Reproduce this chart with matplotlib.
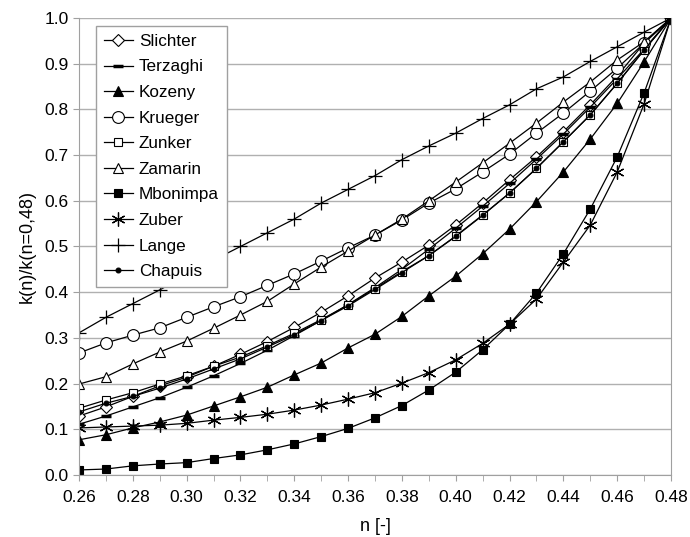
import matplotlib.pyplot as plt
import numpy as np

plt.rcParams['font.family'] = ['Liberation Sans', 'DejaVu Sans']

# porosity values (x axis)
n = [0.26, 0.27, 0.28, 0.29, 0.30, 0.31, 0.32, 0.33, 0.34, 0.35, 0.36, 0.37,
     0.38, 0.39, 0.40, 0.41, 0.42, 0.43, 0.44, 0.45, 0.46, 0.47, 0.48]

# k(n)/k(n=0,48)
slichter = [0.129, 0.149, 0.172, 0.195, 0.214, 0.238, 0.264, 0.292, 0.323, 0.356, 0.392, 0.431,
            0.466, 0.503, 0.547, 0.595, 0.646, 0.696, 0.751, 0.810, 0.873, 0.945, 1.0]
terzaghi = [0.111, 0.129, 0.149, 0.169, 0.192, 0.217, 0.244, 0.273, 0.305, 0.338, 0.373, 0.410,
            0.450, 0.494, 0.540, 0.588, 0.638, 0.691, 0.746, 0.805, 0.867, 0.932, 1.0]
kozeny = [0.077, 0.088, 0.103, 0.116, 0.131, 0.151, 0.171, 0.192, 0.219, 0.245, 0.278, 0.308,
          0.347, 0.392, 0.435, 0.484, 0.538, 0.598, 0.663, 0.735, 0.813, 0.904, 1.0]
krueger = [0.267, 0.289, 0.306, 0.322, 0.345, 0.368, 0.390, 0.415, 0.440, 0.468, 0.497, 0.525,
           0.558, 0.595, 0.626, 0.663, 0.702, 0.748, 0.792, 0.840, 0.890, 0.945, 1.0]
zunker = [0.146, 0.164, 0.180, 0.199, 0.217, 0.238, 0.258, 0.283, 0.310, 0.340, 0.372, 0.408,
          0.445, 0.480, 0.523, 0.569, 0.617, 0.671, 0.729, 0.788, 0.857, 0.930, 1.0]
zamarin = [0.199, 0.215, 0.243, 0.269, 0.293, 0.321, 0.350, 0.380, 0.418, 0.455, 0.490, 0.525,
           0.560, 0.600, 0.641, 0.683, 0.726, 0.770, 0.816, 0.860, 0.908, 0.948, 1.0]
mbonimpa = [0.011, 0.013, 0.020, 0.024, 0.027, 0.036, 0.044, 0.055, 0.068, 0.084, 0.102, 0.125,
            0.152, 0.186, 0.225, 0.274, 0.330, 0.398, 0.484, 0.582, 0.696, 0.836, 1.0]
zuber = [0.103, 0.105, 0.107, 0.109, 0.113, 0.120, 0.126, 0.133, 0.142, 0.153, 0.166, 0.180,
         0.201, 0.224, 0.252, 0.288, 0.330, 0.385, 0.466, 0.547, 0.663, 0.812, 1.0]
lange = [0.311, 0.345, 0.375, 0.405, 0.437, 0.470, 0.500, 0.530, 0.560, 0.595, 0.625, 0.655,
         0.690, 0.720, 0.748, 0.780, 0.810, 0.845, 0.871, 0.905, 0.937, 0.969, 1.0]
chapuis = [0.138, 0.157, 0.172, 0.190, 0.210, 0.232, 0.254, 0.280, 0.307, 0.338, 0.370, 0.406,
           0.443, 0.480, 0.522, 0.568, 0.617, 0.671, 0.729, 0.788, 0.857, 0.930, 1.0]

# name, values, marker, filled, size, edge width
series = [
    ("Slichter", slichter, "D", False, 6, 0.8),
    ("Terzaghi", terzaghi, "_", True, 7, 2.5),
    ("Kozeny", kozeny, "^", True, 7, 0.8),
    ("Krueger", krueger, "o", False, 8.5, 0.8),
    ("Zunker", zunker, "s", False, 6, 0.8),
    ("Zamarin", zamarin, "^", False, 7.5, 0.8),
    ("Mbonimpa", mbonimpa, "s", True, 6, 0.8),
    ("Zuber", zuber, (6, 2, 0), True, 10, 0.9),
    ("Lange", lange, "+", True, 10, 0.9),
    ("Chapuis", chapuis, "o", True, 3.5, 0.8),
]

fig = plt.figure(figsize=(6.9, 5.37), dpi=100)
ax = fig.add_axes([0.1145, 0.1155, 0.858, 0.851])

for name, vals, mk, filled, ms, mew in series:
    ax.plot(n, vals, color="black", linewidth=0.9, marker=mk, markersize=ms,
            markerfacecolor="black" if filled else "white",
            markeredgecolor="black", markeredgewidth=mew, label=name)

ax.set_xlim(0.26, 0.48)
ax.set_ylim(0.0, 1.0)
ax.set_xticks(np.arange(0.26, 0.481, 0.02))
ax.set_xticks(np.arange(0.26, 0.481, 0.01), minor=True)
ax.set_xticklabels(["%.2f" % v for v in np.arange(0.26, 0.481, 0.02)])
ax.set_yticks(np.arange(0.0, 1.01, 0.1))
ax.set_yticklabels(["%.1f" % v for v in np.arange(0.0, 1.01, 0.1)])

ax.grid(axis="y", color="#b0b0b0", linewidth=1.0)
ax.set_axisbelow(True)
for side in ["left", "right", "bottom"]:
    ax.spines[side].set_color("#a0a0a0")
ax.spines["top"].set_visible(False)
ax.tick_params(axis="x", which="both", direction="out", length=4, color="#a0a0a0",
               labelsize=12.5, pad=7)
ax.tick_params(axis="y", direction="out", length=4, color="#a0a0a0", labelsize=12.5)

ax.set_xlabel("n [-]", fontsize=13, labelpad=9)
ax.set_ylabel("k(n)/k(n=0,48)", fontsize=13, labelpad=6)

leg = ax.legend(loc="upper left", bbox_to_anchor=(0.029, 0.982), borderaxespad=0,
                fontsize=12.3, frameon=True, fancybox=False, edgecolor="#a0a0a0",
                framealpha=1, handlelength=1.7, labelspacing=0.62, borderpad=0.45,
                handletextpad=0.35)
leg.get_frame().set_linewidth(1.0)

fig.savefig("out.png", dpi=100)
